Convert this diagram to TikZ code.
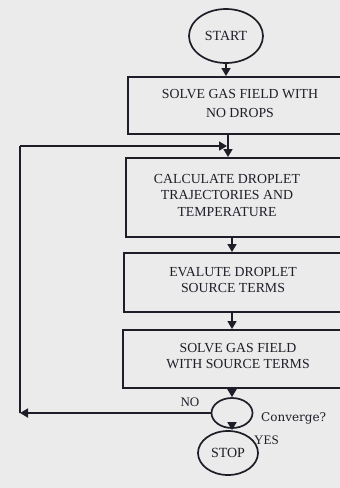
\documentclass[tikz,border=0pt]{standalone}
\usepackage{fontspec}
\setmainfont{Liberation Serif}
\newfontfamily\convfont{DejaVu Serif}
\usetikzlibrary{shapes.geometric,arrows.meta}
\definecolor{bgcol}{HTML}{EBEBEB}
\definecolor{ink}{HTML}{1E1E28}
\begin{document}
\begin{tikzpicture}[x=1pt,y=-1pt,
  line/.style={draw=ink,line width=1.7pt},
  arr/.style={line,-{Triangle[length=8pt,width=9pt]}},
  box/.style={line,rectangle,anchor=north west,minimum width=240pt,inner sep=0pt},
  txt/.style={font=\fontsize{13.8}{16.5}\selectfont,align=center,text=ink,inner sep=0pt},
  term/.style={line,ellipse,inner sep=0pt,font=\fontsize{14}{16}\selectfont,text=ink}]
\fill[bgcol] (0,0) rectangle (340,488);
\useasboundingbox (0,0) rectangle (340,488);
\clip (0,0) rectangle (340,488);
% terminals
\node[term,minimum width=74pt,minimum height=54pt] (start) at (226,36) {START};
\node[term,minimum width=41pt,minimum height=30pt] (conv) at (232,413) {};
\node[term,minimum width=60pt,minimum height=44pt] (stop) at (228,453) {STOP};
% boxes
\node[box,minimum height=57pt] (b1) at (127,76) {};
\node[box,minimum height=79pt] (b2) at (125,157) {};
\node[box,minimum height=59pt] (b3) at (123,252) {};
\node[box,minimum height=58pt] (b4) at (122,329) {};
% texts
\node[txt,font=\fontsize{13.8}{19}\selectfont] (t1) at (240,103) {SOLVE GAS FIELD WITH\\NO DROPS};
\node[txt] (t2) at (227,195) {CALCULATE DROPLET\\TRAJECTORIES AND\\TEMPERATURE};
\node[txt] (t3) at (233,280) {EVALUTE DROPLET\\SOURCE TERMS};
\node[txt] (t4) at (238,356) {SOLVE GAS FIELD\\WITH SOURCE TERMS};
% labels
\node[txt,font=\fontsize{13}{14}\selectfont] (no) at (190,402) {NO};
\node[txt,font=\convfont\fontsize{12}{14}\selectfont,anchor=west] (cv) at (261,418) {Converge?};
\node[txt,font=\fontsize{13}{14}\selectfont,anchor=west] (yes) at (254,440) {YES};
% connectors
\coordinate (cl) at (20,146);
\coordinate (j) at (228,146);
\draw[arr] (start.south) -- (start.south |- b1.north);
\draw[arr] (b1.south -| stop) -- (b2.north -| stop);
\draw[arr] (b2.south -| conv) -- (b3.north -| conv);
\draw[arr] (b3.south -| conv) -- (b4.north -| conv);
\draw[arr] (b4.south -| conv) -- (conv.north);
\draw[arr] (conv.south) -- (stop.north -| conv);
\draw[arr] (conv.west) -- (conv.west -| cl);
\draw[line] (conv.west -| cl) -- (cl);
\draw[arr] (cl) -- ([xshift=-1pt]j);
\end{tikzpicture}
\end{document}
